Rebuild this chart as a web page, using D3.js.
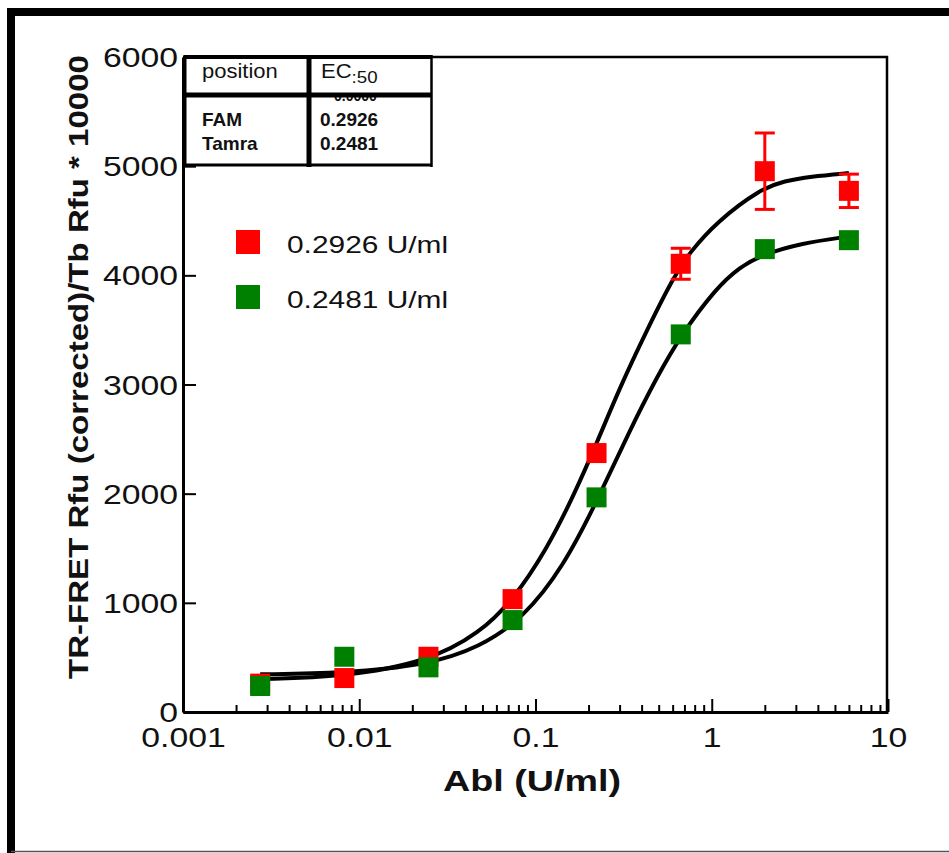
<!DOCTYPE html>
<html>
<head>
<meta charset="UTF-8">
<style>
  body { margin: 0; background: #fff; }
  svg { display: block; }
  text { font-family: "Liberation Sans", Arial, sans-serif; fill: #111; }
  .axis path, .axis line { stroke: #000; }
</style>
</head>
<body>
<script src="https://cdn.jsdelivr.net/npm/d3@7/dist/d3.min.js"></script>
<script>
// concentrations (3-fold dilution) and measured values
var conc = [0.00274, 0.00823, 0.0247, 0.0741, 0.222, 0.667, 2.0, 6.0];
var famVals = [260, 311, 506, 1034, 2372, 4106, 4954, 4774];
var famErr = [0, 0, 0, 0, 0, 142, 350, 153];
var tamraVals = [238, 506, 409, 842, 1966, 3459, 4240, 4322];

// fitted curves
var famFitX = [0.00274, 0.00812, 0.0245, 0.0484, 0.0748, 0.1157, 0.1639, 0.2223, 0.3013, 0.4276, 0.6053, 0.7536, 1.067, 1.879, 2.6, 3.6, 6.0];
var famFit = [302, 322, 460, 724, 1030, 1490, 1975, 2460, 2975, 3495, 3980, 4215, 4490, 4790, 4865, 4905, 4937];
var tamraFitX = [0.00274, 0.00812, 0.0245, 0.0484, 0.0853, 0.1439, 0.2223, 0.3436, 0.4876, 0.6607, 1.067, 1.446, 1.879, 3.17, 6.0];
var tamraFit = [345, 354, 432, 595, 860, 1330, 1925, 2585, 3065, 3440, 3890, 4075, 4180, 4293, 4356];

var xTicks = [0.001, 0.01, 0.1, 1, 10];
var xTickLabels = ["0.001", "0.01", "0.1", "1", "10"];
var yTicks = [0, 1000, 2000, 3000, 4000, 5000, 6000];

var legendLabels = ["0.2926 U/ml", "0.2481 U/ml"];
var tableHead = ["position", "EC"];
var tableNames = ["FAM", "Tamra"];
var tableEc50 = ["0.2926", "0.2481"];

var red = "#ff0000", green = "#008000";

var W = 949, H = 853;
var svg = d3.select("body").append("svg")
    .attr("width", W)
    .attr("height", H);

// outer frame
svg.append("path")
    .attr("d", "M949,12H11V853")
    .attr("fill", "none")
    .attr("stroke", "#000")
    .attr("stroke-width", 8);
svg.append("line")
    .attr("x1", 11).attr("x2", 949)
    .attr("y1", 851.5).attr("y2", 851.5)
    .attr("stroke", "#555")
    .attr("stroke-width", 1.5);

var x = d3.scaleLog().domain([0.001, 10]).range([183, 888]);
var y = d3.scaleLinear().domain([0, 6000]).range([712, 57]);

// plot box top + right
svg.append("path")
    .attr("d", `M${x(0.001)},${y(6000)}H${x(10) - 1}V${y(0)}`)
    .attr("fill", "none")
    .attr("stroke", "#000")
    .attr("stroke-width", 2.5);

// minor x ticks
var minor = [];
for (var e = -3; e < 1; e++) {
    for (var m = 2; m < 10; m++) minor.push(m * Math.pow(10, e));
}
svg.append("g")
    .attr("class", "axis")
    .attr("transform", `translate(0,${y(0)})`)
    .call(d3.axisBottom(x).tickValues(minor).tickSize(-7).tickSizeOuter(0).tickFormat(""))
    .call(g => g.select(".domain").remove())
    .selectAll("line").attr("stroke-width", 2);

var xAxis = svg.append("g")
    .attr("class", "axis")
    .attr("transform", `translate(0,${y(0)})`)
    .call(d3.axisBottom(x).tickValues(xTicks).tickSize(-13).tickSizeOuter(0)
        .tickFormat((d, i) => xTickLabels[i]));
xAxis.select(".domain").attr("stroke-width", 3);
xAxis.selectAll("line").attr("stroke-width", 2);
xAxis.selectAll("text")
    .attr("x", 0).attr("y", 0).attr("dy", null)
    .attr("transform", "translate(0,35) scale(1.25,1)")
    .style("font-size", "27px")
    .attr("fill", "#111");

var yAxis = svg.append("g")
    .attr("class", "axis")
    .attr("transform", `translate(${x(0.001)},0)`)
    .call(d3.axisLeft(y).tickValues(yTicks).tickSize(-13).tickSizeOuter(0).tickFormat(d3.format("d")));
yAxis.select(".domain").attr("stroke-width", 3);
yAxis.selectAll("line").attr("stroke-width", 2);
yAxis.selectAll("text")
    .attr("x", 0).attr("y", 0).attr("dy", null)
    .attr("transform", "translate(-5,9.5) scale(1.25,1)")
    .style("font-size", "27px")
    .attr("fill", "#111");

// axis titles
svg.append("text")
    .attr("transform", "translate(532,791) scale(1.3,1)")
    .attr("text-anchor", "middle")
    .style("font-size", "29px")
    .style("font-weight", "bold")
    .text("Abl (U/ml)");
svg.append("text")
    .attr("transform", "translate(88,367) rotate(-90) scale(1.18,1)")
    .attr("text-anchor", "middle")
    .style("font-size", "28px")
    .style("font-weight", "bold")
    .text("TR-FRET Rfu (corrected)/Tb Rfu * 10000");

// fitted curves
var line = d3.line()
    .x(d => x(d[0]))
    .y(d => y(d[1]))
    .curve(d3.curveBasis);
[[famFitX, famFit], [tamraFitX, tamraFit]].forEach(function (c) {
    svg.append("path")
        .datum(c[0].map((v, i) => [v, c[1][i]]))
        .attr("d", line)
        .attr("fill", "none")
        .attr("stroke", "#000")
        .attr("stroke-width", 4);
});

// error bars (red series)
var eb = svg.append("g").attr("stroke", red).attr("stroke-width", 3);
conc.forEach(function (c, i) {
    if (!famErr[i]) return;
    var cx = x(c), y1 = y(famVals[i] + famErr[i]), y2 = y(famVals[i] - famErr[i]);
    eb.append("line").attr("x1", cx).attr("x2", cx).attr("y1", y1).attr("y2", y2);
    eb.append("line").attr("x1", cx - 10).attr("x2", cx + 10).attr("y1", y1).attr("y2", y1);
    eb.append("line").attr("x1", cx - 10).attr("x2", cx + 10).attr("y1", y2).attr("y2", y2);
});

var sq = 20;
svg.append("g").selectAll("rect")
    .data(conc)
    .enter().append("rect")
    .attr("x", d => x(d) - sq / 2)
    .attr("y", (d, i) => y(famVals[i]) - sq / 2)
    .attr("width", sq).attr("height", sq)
    .attr("fill", red);
svg.append("g").selectAll("rect")
    .data(conc)
    .enter().append("rect")
    .attr("x", d => x(d) - sq / 2)
    .attr("y", (d, i) => y(tamraVals[i]) - sq / 2)
    .attr("width", sq).attr("height", sq)
    .attr("fill", green);

// legend
[red, green].forEach(function (col, i) {
    var ly = 242 + i * 55;
    svg.append("rect")
        .attr("x", 236).attr("y", ly - 12)
        .attr("width", 24).attr("height", 24)
        .attr("fill", col);
    svg.append("text")
        .attr("transform", `translate(287,${ly + 11}) scale(1.3,1)`)
        .style("font-size", "23px")
        .text(legendLabels[i]);
});

// EC50 table
var tb = svg.append("g");
tb.append("rect").attr("x", 185).attr("y", 57).attr("width", 247).attr("height", 108).attr("fill", "#fff");
tb.append("defs").append("clipPath").attr("id", "cell")
    .append("rect").attr("x", 311).attr("y", 97).attr("width", 120).attr("height", 66);
tb.append("text")
    .attr("clip-path", "url(#cell)")
    .attr("x", 334).attr("y", 101)
    .style("font-size", "14px").style("font-weight", "bold")
    .text("0.0000");
tb.append("text")
    .attr("transform", "translate(202,78) scale(1.1,1)")
    .style("font-size", "20px")
    .text(tableHead[0]);
var ec = tb.append("text")
    .attr("transform", "translate(321,78) scale(1.1,1)")
    .style("font-size", "20px")
    .text(tableHead[1]);
ec.append("tspan").attr("dy", 5).style("font-size", "17px").text(":50");
tableNames.forEach(function (n, i) {
    tb.append("text")
        .attr("x", 202).attr("y", 126 + i * 24)
        .style("font-size", "19px").style("font-weight", "bold")
        .text(n);
    tb.append("text")
        .attr("x", 320).attr("y", 126 + i * 24)
        .style("font-size", "19px").style("font-weight", "bold")
        .text(tableEc50[i]);
});
var tl = [
    [185, 57, 432, 57, 4], [185, 165, 432, 165, 3], [185, 95, 432, 95, 5],
    [185, 55, 185, 167, 3], [309, 55, 309, 167, 5], [431.5, 55, 431.5, 167, 2.5]
];
tl.forEach(function (l) {
    tb.append("line")
        .attr("x1", l[0]).attr("y1", l[1]).attr("x2", l[2]).attr("y2", l[3])
        .attr("stroke", "#000").attr("stroke-width", l[4]);
});
</script>
</body>
</html>
